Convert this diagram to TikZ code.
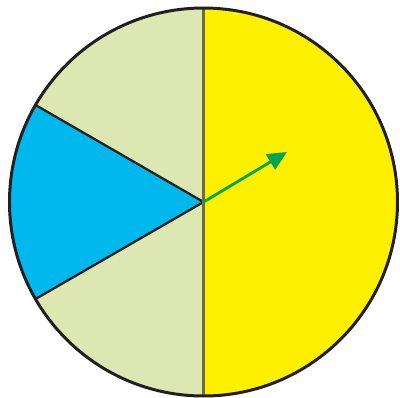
\documentclass[tikz,border=0pt]{standalone}
\usetikzlibrary{arrows.meta}
\definecolor{lgreen}{HTML}{DCE7B2}
\definecolor{skyb}{HTML}{00B8EE}
\definecolor{yel}{HTML}{FFF000}
\definecolor{outl}{HTML}{231F20}
\definecolor{olive}{HTML}{6E6A3E}
\definecolor{arr}{HTML}{00A651}
\tikzset{edge/.style={draw=outl,line width=1.3pt}}
\begin{document}
\begin{tikzpicture}[x=0.02cm,y=-0.02cm]
\useasboundingbox (0,0) rectangle (400,397);
\coordinate (c) at (203.5,202);
\def\R{194}
\fill[yel] (c) circle[radius=\R];
\fill[lgreen] (c) -- ++(-90:\R) arc[start angle=-90,end angle=-150,radius=\R] -- cycle;
\fill[skyb] (c) -- ++(-150:\R) arc[start angle=-150,end angle=-210,radius=\R] -- cycle;
\fill[lgreen] (c) -- ++(150:\R) arc[start angle=150,end angle=90,radius=\R] -- cycle;
\draw[edge] (c) -- ++(-150:\R);
\draw[edge] (c) -- ++(150:\R);
\draw[olive,line width=1.5pt] (c) ++(0,-\R) -- ++(0,2*\R);
\draw[outl,line width=1.7pt] (c) circle[radius=\R];
\coordinate (tip) at (287,152);
\draw[arr,line width=1.6pt,-{Triangle[length=11pt,width=10pt]}] (c) -- (tip);
\end{tikzpicture}
\end{document}
